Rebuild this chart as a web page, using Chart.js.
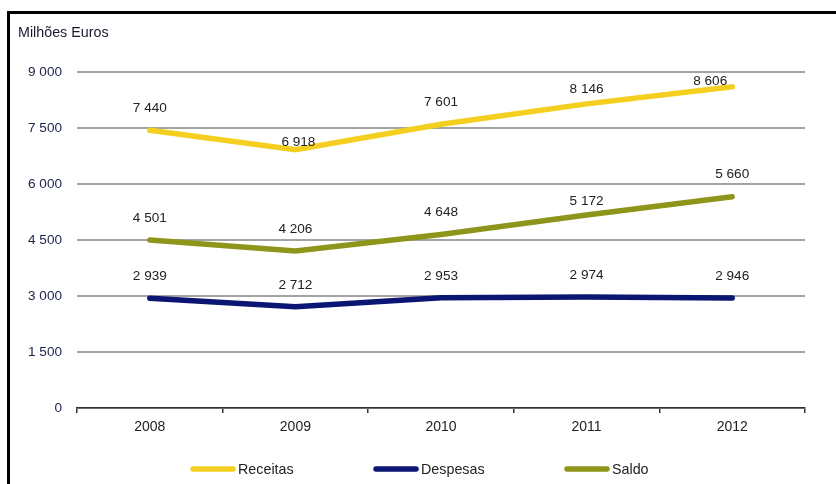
<!DOCTYPE html>
<html>
<head>
<meta charset="utf-8">
<script src="https://cdn.jsdelivr.net/npm/chart.js@4"></script>
<style>
  html, body { margin: 0; padding: 0; background: #fff; }
  #wrap { position: relative; width: 836px; height: 484px; }
  #frame { position: absolute; left: 7px; top: 11px; right: -5px; bottom: -5px;
           border-left: 3px solid #000; border-top: 3px solid #000; }
  canvas { position: absolute; left: 0; top: 0; }
</style>
</head>
<body>
<div id="wrap">
  <div id="frame"></div>
  <canvas id="myChart" width="836" height="484"></canvas>
</div>
<script>
var years = ["2008", "2009", "2010", "2011", "2012"];
var receitas = [7440, 6918, 7601, 8146, 8606];
var despesas = [2939, 2712, 2953, 2974, 2946];
var saldo = [4501, 4206, 4648, 5172, 5660];
var yTicks = [0, 1500, 3000, 4500, 6000, 7500, 9000];

var seriesNames = ["Receitas", "Despesas", "Saldo"];
var lineColors = ["#F5CF1F", "#0B1572", "#8E951A"];

var FONT = "'Liberation Sans', Arial, sans-serif";

// label nudges (dx, dy) relative to each point, default is straight above
var labelNudge = {
  "0-1": [3, -7],
  "0-3": [0, -15],
  "0-4": [-22, -5],
  "2-3": [0, -14]
};

function fmt(v) {
  return String(v).replace(/\B(?=(\d{3})+(?!\d))/g, " ");
}

var extras = {
  id: "extras",
  afterDatasetsDraw: function (chart) {
    var ctx = chart.ctx;
    ctx.save();
    ctx.font = "13.6px " + FONT;
    ctx.fillStyle = "#222";
    ctx.textAlign = "center";
    ctx.textBaseline = "middle";
    chart.data.datasets.forEach(function (ds, i) {
      chart.getDatasetMeta(i).data.forEach(function (pt, j) {
        var n = labelNudge[i + "-" + j] || [0, -22];
        ctx.fillText(fmt(ds.data[j]), pt.x + n[0], pt.y + n[1]);
      });
    });

    // axis title
    ctx.font = "14.3px " + FONT;
    ctx.textAlign = "left";
    ctx.fillStyle = "#1a1a2e";
    ctx.fillText("Milhões Euros", 18, 33);

    // legend
    var legendX = [190, 373, 564];
    var ly = 469;
    ctx.lineCap = "round";
    ctx.lineWidth = 5.5;
    seriesNames.forEach(function (name, i) {
      ctx.strokeStyle = lineColors[i];
      ctx.beginPath();
      ctx.moveTo(legendX[i] + 3, ly);
      ctx.lineTo(legendX[i] + 43, ly);
      ctx.stroke();
      ctx.fillStyle = "#222";
      ctx.fillText(name, legendX[i] + 48, ly + 1);
    });
    ctx.restore();
  }
};

new Chart("myChart", {
  type: "line",
  data: {
    labels: years,
    datasets: [
      { label: seriesNames[0], data: receitas, borderColor: lineColors[0] },
      { label: seriesNames[1], data: despesas, borderColor: lineColors[1] },
      { label: seriesNames[2], data: saldo, borderColor: lineColors[2] }
    ]
  },
  options: {
    responsive: false,
    animation: false,
    layout: { padding: { left: 0, right: 31, top: 72, bottom: 0 } },
    elements: {
      line: { borderWidth: 5.5, borderCapStyle: "round", borderJoinStyle: "miter", tension: 0 },
      point: { radius: 0, hoverRadius: 0 }
    },
    plugins: {
      legend: { display: false },
      tooltip: { enabled: false }
    },
    scales: {
      x: {
        offset: true,
        afterFit: function (s) { s.height = 76; },
        grid: {
          offset: true,
          drawOnChartArea: false,
          drawTicks: true,
          tickLength: 5,
          color: "#333",
          lineWidth: 1.5
        },
        border: { display: true, color: "#333", width: 1.5 },
        ticks: {
          color: "#222",
          padding: 6,
          font: { family: FONT, size: 14 }
        }
      },
      y: {
        min: 0,
        max: 9000,
        afterFit: function (s) { s.width = 77; },
        afterBuildTicks: function (s) {
          s.ticks = yTicks.map(function (v) { return { value: v }; });
        },
        grid: { drawTicks: false, color: "#a3a3a3", lineWidth: 2 },
        border: { display: false },
        ticks: {
          color: "#1c2150",
          padding: 15,
          callback: function (v) { return fmt(v); },
          font: { family: FONT, size: 13.6 }
        }
      }
    }
  },
  plugins: [extras]
});
</script>
</body>
</html>
